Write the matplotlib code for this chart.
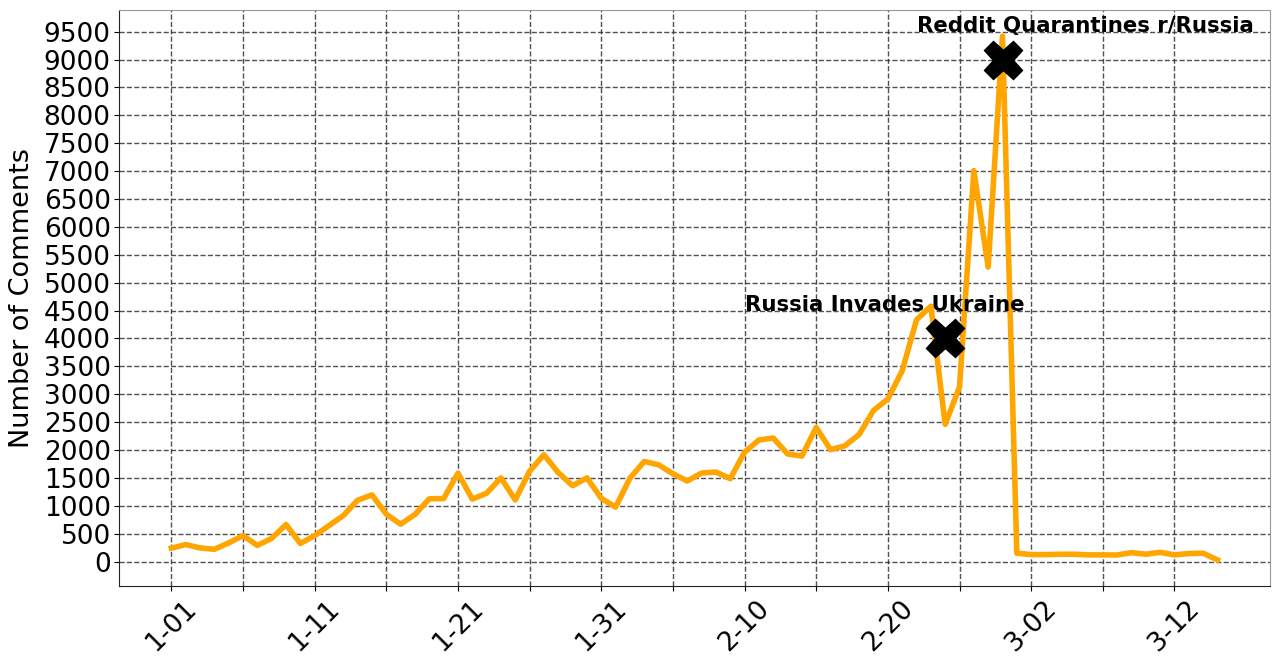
import matplotlib
matplotlib.use("Agg")
import matplotlib.pyplot as plt
import numpy as np

# Daily comment counts starting 2022-01-01
comments = [240, 305, 245, 220, 335, 465, 290, 415, 665, 325,
            465, 645, 825, 1100, 1195, 850, 670, 845, 1125, 1130,
            1585, 1120, 1225, 1500, 1105, 1620, 1915, 1595, 1360, 1500,
            1135, 975, 1495, 1795, 1735, 1575, 1445, 1587, 1605, 1486,
            1960, 2180, 2215, 1930, 1892, 2405, 2006, 2075, 2280, 2710,
            2915, 3420, 4335, 4580, 2460, 3130, 7010, 5280, 9420, 150,
            125, 125, 131, 131, 120, 120, 118, 160, 132, 165,
            120, 144, 150, 30]
days = np.arange(len(comments))

tick_days = [0, 10, 20, 30, 40, 50, 60, 70]
tick_labels = ['1-01', '1-11', '1-21', '1-31', '2-10', '2-20', '3-02', '3-12']
grid_days = np.arange(0, 71, 5)

event_labels = ['Russia Invades Ukraine', 'Reddit Quarantines r/Russia']
event_days = [54, 58]
event_values = [4000, 9000]
event_text_days = [49.8, 63.77]
event_text_values = [4500, 9500]

fig = plt.figure(figsize=(12.8, 6.66), dpi=100)
ax = fig.add_axes([0.093, 0.12, 0.899, 0.865])

ax.plot(days, comments, color='#FFA500', linewidth=4.0, zorder=2)
ax.plot(event_days, event_values, linestyle='none', marker='X',
        color='black', markersize=28, zorder=3)
for lab, tx, ty in zip(event_labels, event_text_days, event_text_values):
    ax.text(tx, ty, lab, ha='center', va='baseline', fontsize=15.3,
            fontweight='bold', color='black', zorder=4)

all_ticks = list(grid_days)
labels = []
for d in grid_days:
    labels.append(tick_labels[tick_days.index(d)] if d in tick_days else '')
ax.set_xticks(all_ticks)
ax.set_xticklabels(labels, rotation=45, fontsize=19)
ax.set_yticks(np.arange(0, 9501, 500))
ax.tick_params(axis='y', labelsize=19, pad=2.5)
ax.set_ylabel('Number of Comments', fontsize=19.5, labelpad=6)

ax.grid(True, linestyle='--', color='#333333', linewidth=1.0, alpha=0.85)
ax.set_axisbelow(True)
for s in ['top', 'right']:
    ax.spines[s].set_color('#999999')
for s in ['left', 'bottom']:
    ax.spines[s].set_color('#222222')

fig.savefig('out.png', dpi=100)
